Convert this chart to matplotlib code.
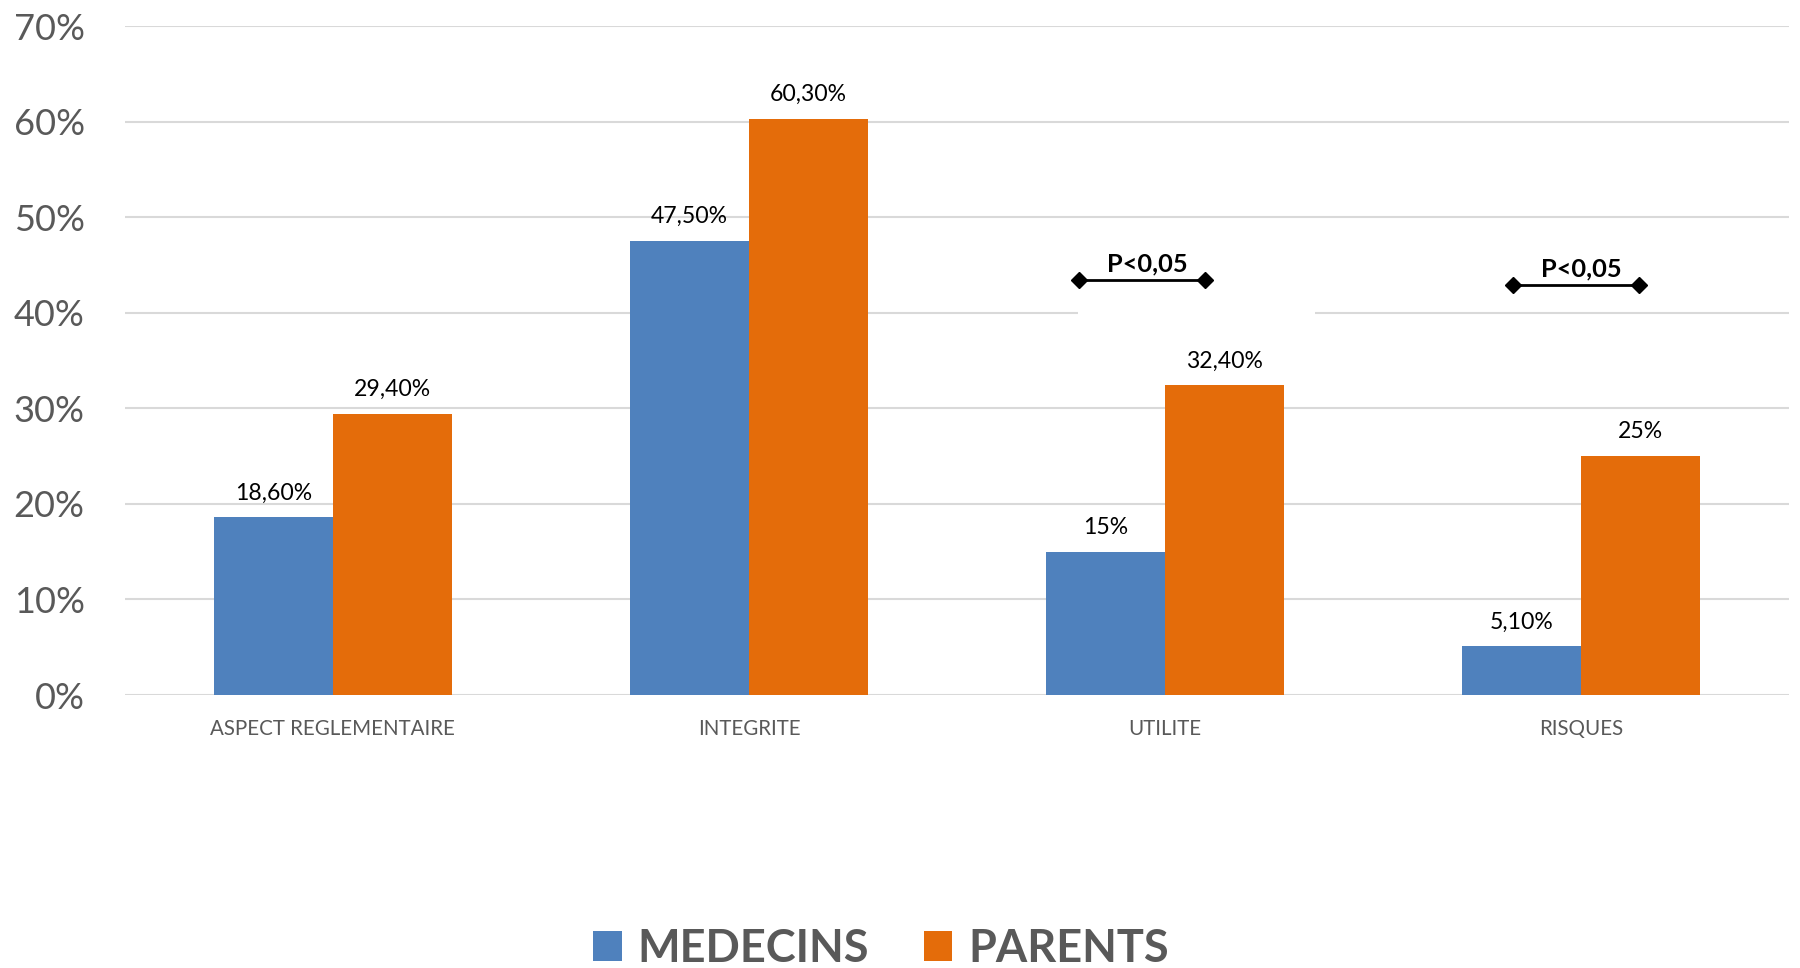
import numpy as np
import matplotlib.pyplot as plt
from matplotlib.patches import Rectangle

# ===== données =====
categories = ["ASPECT REGLEMENTAIRE", "INTEGRITE", "UTILITE", "RISQUES"]
medecins = [18.6, 47.5, 15.0, 5.1]
parents = [29.4, 60.3, 32.4, 25.0]
labels_medecins = ["18,60%", "47,50%", "15%", "5,10%"]
labels_parents = ["29,40%", "60,30%", "32,40%", "25%"]
yticks = [0, 10, 20, 30, 40, 50, 60, 70]
pvalue_text = "P<0,05"

BLUE = "#4F81BD"
ORANGE = "#E46C0A"
GREY = "#595959"

plt.rcParams["font.family"] = ["Lato", "DejaVu Sans"]

fig = plt.figure(figsize=(18, 9.68), dpi=100)
ax = fig.add_axes([0.0694, 0.282, 0.9245, 0.691])

x = np.arange(len(categories))
w = 0.286

b1 = ax.bar(x - w / 2, medecins, w, color=BLUE, label="MEDECINS", zorder=3)
b2 = ax.bar(x + w / 2, parents, w, color=ORANGE, label="PARENTS", zorder=3)

# étiquettes de valeurs
for bars, labs in ((b1, labels_medecins), (b2, labels_parents)):
    for rect, lab in zip(bars, labs):
        ax.annotate(lab, (rect.get_x() + rect.get_width() / 2, rect.get_height()),
                    xytext=(0, 10), textcoords="offset points",
                    ha="center", va="bottom", fontsize=16.6, color="black", zorder=5)

ax.set_xlim(-0.5, len(categories) - 0.5)
ax.set_ylim(0, 70)
ax.set_yticks(yticks)
ax.set_yticklabels([f"{t}%" for t in yticks], fontsize=26, color=GREY)
ax.set_xticks(x)
ax.set_xticklabels(categories, fontsize=14.8, color=GREY)
ax.tick_params(axis="y", length=0, pad=29)
ax.tick_params(axis="x", length=0, pad=17)

ax.set_axisbelow(True)
ax.grid(axis="y", color="#D9D9D9", linewidth=1.5)
for s in ax.spines.values():
    s.set_visible(False)

# cadre blanc derrière la première annotation
ax.add_patch(Rectangle((1.79, 39), 0.57, 6.5, facecolor="white",
                       edgecolor="none", zorder=2))

# crochets de significativité
brackets = [(1.793, 2.096, 43.4), (2.837, 3.139, 42.9)]
for x0, x1, yb in brackets:
    ax.plot([x0, x1], [yb, yb], color="black", lw=2, marker="D",
            markersize=8, zorder=6, clip_on=False)
    ax.text((x0 + x1) / 2 + 0.012, yb + 0.5, pvalue_text, ha="center",
            va="bottom", fontsize=18.3, fontweight="bold", color="black", zorder=6)

leg = fig.legend(handles=[b1, b2], loc="center", ncol=2,
                 bbox_to_anchor=(881 / 1800, 1 - 949 / 968), frameon=False,
                 handlelength=0.64, handleheight=0.66, handletextpad=0.36,
                 columnspacing=1.2,
                 prop={"size": 32.5, "weight": "bold"})
for t in leg.get_texts():
    t.set_color(GREY)

fig.savefig("out.png", dpi=100)
